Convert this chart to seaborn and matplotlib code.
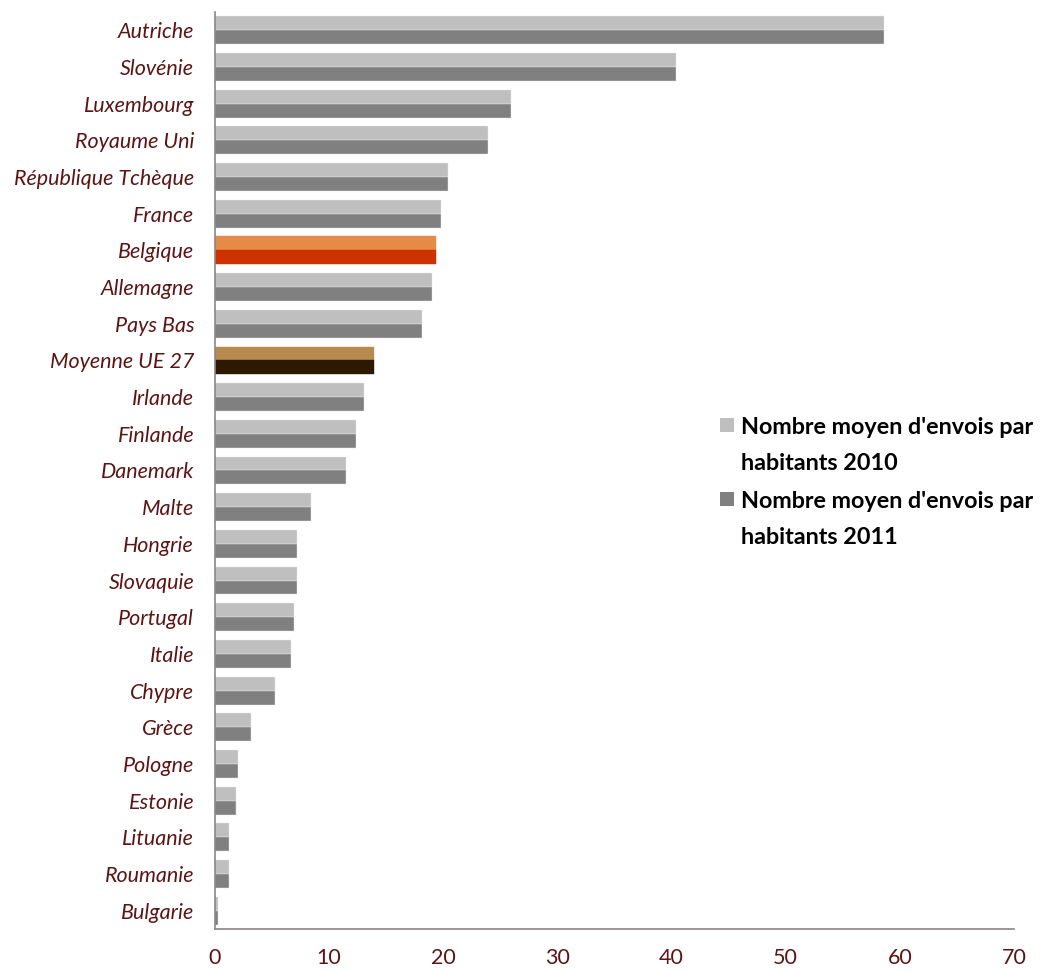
import matplotlib
matplotlib.use("Agg")
import matplotlib.pyplot as plt
import seaborn as sns
import pandas as pd
import numpy as np
from matplotlib.patches import Patch, Rectangle
from matplotlib.legend_handler import HandlerPatch

countries = ["Autriche", "Slovénie", "Luxembourg", "Royaume Uni", "République Tchèque",
             "France", "Belgique", "Allemagne", "Pays Bas", "Moyenne UE 27", "Irlande",
             "Finlande", "Danemark", "Malte", "Hongrie", "Slovaquie", "Portugal", "Italie",
             "Chypre", "Grèce", "Pologne", "Estonie", "Lituanie", "Roumanie", "Bulgarie"]
values_2010 = [58.6, 40.4, 25.9, 23.9, 20.4, 19.8, 19.4, 19.0, 18.1, 13.9, 13.1, 12.4, 11.5,
               8.4, 7.2, 7.2, 6.9, 6.7, 5.3, 3.2, 2.0, 1.8, 1.25, 1.25, 0.3]
values_2011 = [58.6, 40.4, 25.9, 23.9, 20.4, 19.8, 19.4, 19.0, 18.1, 13.9, 13.1, 12.4, 11.5,
               8.4, 7.2, 7.2, 6.9, 6.7, 5.3, 3.2, 2.0, 1.8, 1.25, 1.25, 0.25]
series = ["Nombre moyen d'envois par\nhabitants 2010", "Nombre moyen d'envois par\nhabitants 2011"]
xticks = [0, 10, 20, 30, 40, 50, 60, 70]

colors = {series[0]: "#BFBFBF", series[1]: "#808080"}
special = {"Belgique": ("#E68A48", "#CC3300"), "Moyenne UE 27": ("#B88A4F", "#2D1900")}

df = pd.DataFrame({
    "pays": countries * 2,
    "valeur": values_2010 + values_2011,
    "serie": [series[0]] * len(countries) + [series[1]] * len(countries),
})

sns.set_style("white")
plt.rcParams["font.family"] = ["Lato", "DejaVu Sans"]

fig = plt.figure(figsize=(10.41, 9.72), dpi=100)
ax = fig.add_axes([0.2065, 0.0442, 0.7675, 0.9435])

sns.barplot(data=df, y="pays", x="valeur", hue="serie", orient="h", palette=colors,
            width=0.76, ax=ax, legend=False, saturation=1, edgecolor="#E8E8E8", linewidth=0.3)

# recolor highlighted countries
n = len(countries)
for i, c in enumerate(countries):
    if c in special:
        ax.patches[i].set_facecolor(special[c][0])
        ax.patches[n + i].set_facecolor(special[c][1])
        ax.patches[i].set_edgecolor(special[c][0])
        ax.patches[n + i].set_edgecolor(special[c][1])

ax.set_xlim(0, 70)
ax.set_ylim(n - 0.5, -0.5)
ax.set_xticks(xticks)
ax.set_xticklabels([str(t) for t in xticks])
ax.set_xlabel("")
ax.set_ylabel("")

label_color = "#5E1414"
spine_color = "#8C8489"
ax.set_yticks(range(n))
ax.set_yticklabels(countries, fontstyle="italic", fontsize=15.5, color=label_color)
ax.tick_params(axis="y", which="major", length=0, pad=15)
ax.set_yticks(np.arange(-0.5, n, 1.0), minor=True)
ax.tick_params(axis="y", which="minor", length=7, color=spine_color, width=1.2, direction="out")
ax.tick_params(axis="x", which="major", length=7, color=spine_color, width=1.2,
               direction="out", labelsize=15.5, labelcolor=label_color, pad=7)

for s in ["top", "right"]:
    ax.spines[s].set_visible(False)
for s in ["left", "bottom"]:
    ax.spines[s].set_color(spine_color)
    ax.spines[s].set_linewidth(1.2)


def top_aligned_square(legend, orig_handle, xdescent, ydescent, width, height, fontsize):
    shift = 0.9 * fontsize
    return Rectangle((-xdescent, -ydescent + shift), width, height)


handles = [Patch(facecolor=colors[s], edgecolor="none") for s in series]
leg = fig.legend(handles, series, loc="upper left", bbox_to_anchor=(0.692, 0.571),
                 frameon=False, prop={"weight": "bold", "size": 16.8},
                 handlelength=0.6, handleheight=0.6, handletextpad=0.3,
                 labelspacing=0.72, borderpad=0, borderaxespad=0,
                 handler_map={Patch: HandlerPatch(patch_func=top_aligned_square)})
for t in leg.get_texts():
    t.set_color("black")
    t.set_linespacing(1.9)

fig.savefig("out.png", dpi=100)
